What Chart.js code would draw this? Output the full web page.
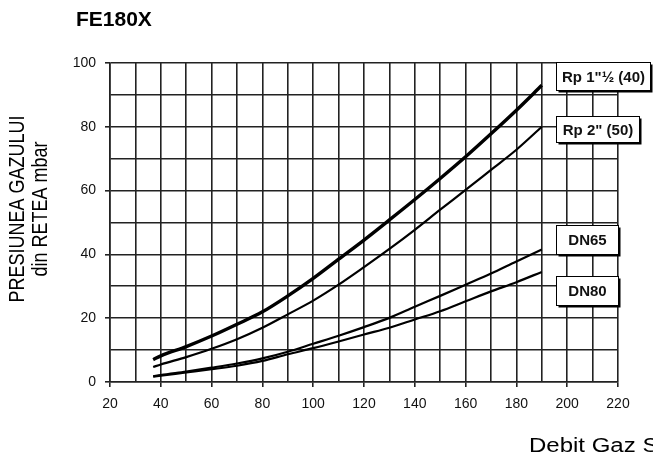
<!DOCTYPE html>
<html>
<head>
<meta charset="utf-8">
<script src="https://cdn.jsdelivr.net/npm/chart.js@4/dist/chart.umd.min.js"></script>
<style>
  html, body { margin: 0; padding: 0; background: #fff; }
  #wrap { width: 653px; height: 459px; }
</style>
</head>
<body>
<div id="wrap"><canvas id="c" width="653" height="459"></canvas></div>
<script>
// Gas flow (x) against network gas pressure (y), FE180X burner
const flow = [37, 40, 50, 60, 70, 80, 90, 100, 110, 120, 130, 140, 150, 160, 170, 180, 190];
const rp40 = [7.0, 8.2, 11.1, 14.4, 18.1, 22.0, 27.0, 32.5, 38.5, 44.5, 50.8, 57.2, 63.8, 70.6, 77.8, 85.2, 93.0];
const rp50 = [4.7, 5.5, 7.8, 10.4, 13.4, 17.0, 21.2, 25.5, 30.5, 36.0, 41.7, 47.7, 54.0, 60.2, 66.5, 72.8, 80.0];
const dn65 = [1.8, 2.2, 3.3, 4.5, 5.8, 7.4, 9.5, 12.0, 14.5, 17.2, 20.1, 23.6, 27.0, 30.5, 34.0, 37.8, 41.5];
const dn80 = [1.7, 2.0, 3.0, 4.0, 5.1, 6.6, 8.7, 10.6, 12.7, 14.9, 17.0, 19.6, 22.2, 25.3, 28.4, 31.3, 34.5];
const seriesNames = ['Rp 1"\u00BD (40)', 'Rp 2" (50)', 'DN65', 'DN80'];
const xTickLabels = ['20', '40', '60', '80', '100', '120', '140', '160', '180', '200', '220'];
const yTickLabels = ['0', '20', '40', '60', '80', '100'];

const chartTitle = 'FE180X';
const yTitle = ['PRESIUNEA GAZULUI', 'din RETEA mbar'];
const xTitle = 'Debit Gaz Sm\u00B3/h';

const pts = (ys) => flow.map((x, i) => ({ x: x, y: ys[i] }));

// name boxes placed at the right of the curves (x in data units, y centre in data units)
const tagFont = 'bold 15px "Liberation Sans", Arial, sans-serif';
const tagLayout = [
  { x: 195.5, y: 96.0, w: 94, h: 28 },
  { x: 195.5, y: 79.2, w: 83, h: 26 },
  { x: 195.5, y: 44.7, w: 62, h: 29 },
  { x: 195.5, y: 28.8, w: 62, h: 29 }
];

const textPlugin = {
  id: 'texts',
  afterDraw(chart) {
    const ctx = chart.ctx;
    ctx.save();
    ctx.fillStyle = '#000';
    // chart title
    ctx.font = 'bold 21px "Liberation Sans", Arial, sans-serif';
    ctx.textAlign = 'left';
    ctx.textBaseline = 'middle';
    ctx.fillText(chartTitle, 76, 20);
    // y axis title (two lines, glyphs widened across the line)
    ctx.font = '18px "Liberation Sans", Arial, sans-serif';
    ctx.textAlign = 'center';
    [[18, yTitle[0]], [41, yTitle[1]]].forEach(([cx, s]) => {
      ctx.save();
      ctx.translate(cx, 209);
      ctx.rotate(-Math.PI / 2);
      ctx.scale(1, 1.2);
      ctx.fillText(s, 0, 0);
      ctx.restore();
    });
    // x axis title
    ctx.save();
    ctx.font = '20px "Liberation Sans", Arial, sans-serif';
    ctx.textAlign = 'left';
    ctx.translate(529, 446);
    ctx.scale(1.2, 1);
    ctx.fillText(xTitle, 0, 0);
    ctx.restore();
    ctx.restore();
  }
};

const tagPlugin = {
  id: 'tags',
  afterDatasetsDraw(chart) {
    const ctx = chart.ctx;
    const xs = chart.scales.x, ys = chart.scales.y;
    ctx.save();
    tagLayout.forEach((t, i) => {
      const left = Math.round(xs.getPixelForValue(t.x)) + 0.5;
      const top = Math.round(ys.getPixelForValue(t.y) - t.h / 2) + 0.5;
      // shadow
      ctx.fillStyle = '#000';
      ctx.fillRect(left + 2, top + 2, t.w, t.h);
      // box
      ctx.fillStyle = '#fff';
      ctx.fillRect(left, top, t.w, t.h);
      ctx.strokeStyle = '#000';
      ctx.lineWidth = 1;
      ctx.strokeRect(left, top, t.w, t.h);
      ctx.fillStyle = '#111';
      ctx.font = tagFont;
      ctx.textAlign = 'center';
      ctx.textBaseline = 'middle';
      ctx.fillText(seriesNames[i], left + t.w / 2, top + t.h / 2 + 1);
    });
    ctx.restore();
  }
};

const gridColor = '#222';
const tickFont = { family: '"Liberation Sans", Arial, sans-serif', size: 14 };

new Chart(document.getElementById('c'), {
  type: 'line',
  data: {
    datasets: [
      { label: seriesNames[0], data: pts(rp40), borderColor: '#000', borderWidth: 3.4 },
      { label: seriesNames[1], data: pts(rp50), borderColor: '#000', borderWidth: 2.2 },
      { label: seriesNames[2], data: pts(dn65), borderColor: '#000', borderWidth: 2.2 },
      { label: seriesNames[3], data: pts(dn80), borderColor: '#000', borderWidth: 2.2 }
    ]
  },
  options: {
    responsive: false,
    animation: false,
    devicePixelRatio: 1,
    layout: { padding: { top: 63, right: 35, left: 0, bottom: 0 } },
    elements: {
      point: { radius: 0 },
      line: { cubicInterpolationMode: 'monotone', fill: false, borderCapStyle: 'butt' }
    },
    plugins: { legend: { display: false }, tooltip: { enabled: false } },
    scales: {
      x: {
        type: 'linear',
        min: 20, max: 220,
        afterFit(s) { s.height = 77; },
        ticks: {
          stepSize: 10, autoSkip: false, maxRotation: 0, padding: 9,
          color: '#111', font: tickFont,
          callback: (v) => xTickLabels.includes(String(v)) ? String(v) : ''
        },
        grid: {
          color: gridColor, lineWidth: 1.6, tickLength: 5,
          tickColor: (c) => (c.tick && xTickLabels.includes(String(c.tick.value))) ? gridColor : 'rgba(0,0,0,0)'
        },
        border: { color: gridColor, width: 1.6 }
      },
      y: {
        min: 0, max: 100,
        afterFit(s) { s.width = 110; },
        ticks: {
          stepSize: 10, autoSkip: false, padding: 9,
          color: '#111', font: tickFont,
          callback: (v) => yTickLabels.includes(String(v)) ? String(v) : ''
        },
        grid: {
          color: gridColor, lineWidth: 1.6, tickLength: 5,
          tickColor: (c) => (c.tick && yTickLabels.includes(String(c.tick.value))) ? gridColor : 'rgba(0,0,0,0)'
        },
        border: { color: gridColor, width: 1.6 }
      }
    }
  },
  plugins: [tagPlugin, textPlugin]
});
</script>
</body>
</html>
